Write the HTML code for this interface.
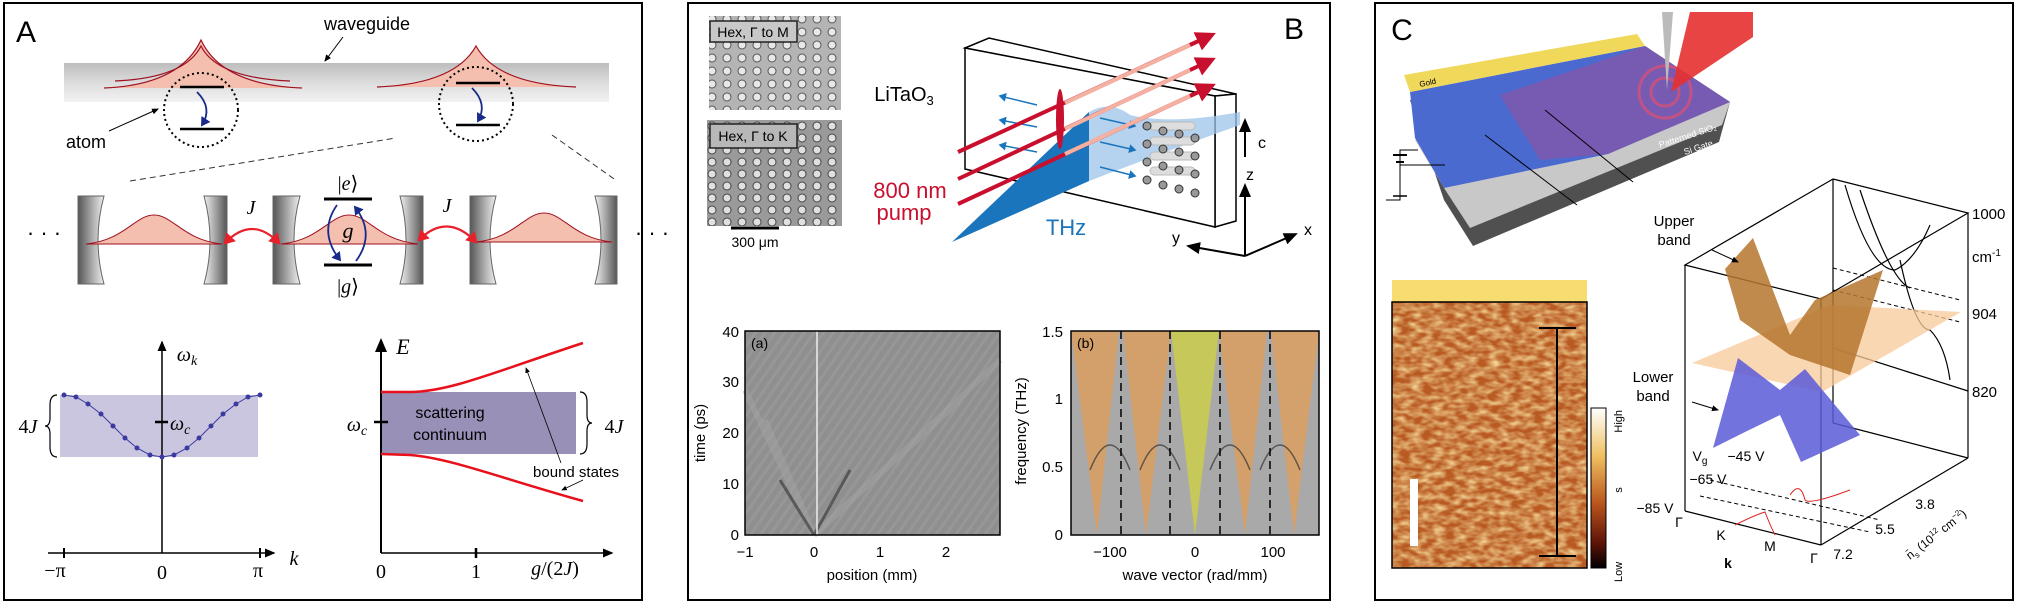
<!DOCTYPE html>
<html><head><meta charset="utf-8"><style>
html,body{margin:0;padding:0;background:#fff}
svg{display:block}
text{font-family:"Liberation Sans",sans-serif}
.m{font-family:"Liberation Serif",serif;font-style:italic}
.r{font-family:"Liberation Serif",serif}
</style></head><body>
<svg width="2017" height="604" viewBox="0 0 2017 604" xmlns="http://www.w3.org/2000/svg">
<defs>
<linearGradient id="wg" x1="0" y1="0" x2="0" y2="1"><stop offset="0" stop-color="#bdbdbd"/><stop offset="0.5" stop-color="#dcdcdc"/><stop offset="1" stop-color="#f2f2f2"/></linearGradient>
<linearGradient id="mir" x1="0" y1="0" x2="1" y2="0"><stop offset="0" stop-color="#f0f0f0"/><stop offset="1" stop-color="#555"/></linearGradient>
<linearGradient id="mir2" x1="1" y1="0" x2="0" y2="0"><stop offset="0" stop-color="#f0f0f0"/><stop offset="1" stop-color="#555"/></linearGradient>
<linearGradient id="cb" x1="0" y1="0" x2="0" y2="1"><stop offset="0" stop-color="#fff"/><stop offset="0.3" stop-color="#f0c060"/><stop offset="0.6" stop-color="#b8541c"/><stop offset="0.85" stop-color="#5a1208"/><stop offset="1" stop-color="#000"/></linearGradient>
<pattern id="diag" width="8" height="8" patternUnits="userSpaceOnUse" patternTransform="rotate(35)"><rect width="8" height="8" fill="#8f8f8f"/><rect width="3" height="8" fill="#979797"/></pattern>
<pattern id="holes" width="15" height="13" patternUnits="userSpaceOnUse"><rect width="15" height="13" fill="#b4b4b4"/><circle cx="7" cy="6" r="4" fill="#e8e8e8" stroke="#555" stroke-width="1"/></pattern>
<pattern id="holes2" width="15" height="12" patternUnits="userSpaceOnUse"><rect width="15" height="12" fill="#9a9a9a"/><circle cx="7" cy="6" r="4" fill="#e0e0e0" stroke="#444" stroke-width="1"/></pattern>
<filter id="tex" x="0" y="0" width="1" height="1" filterUnits="objectBoundingBox"><feTurbulence type="fractalNoise" baseFrequency="0.09 0.18" numOctaves="2" seed="3"/><feColorMatrix type="matrix" values="0 0 0 0 0.95  0 0 0 0 0.75  0 0 0 0 0.35  0 0 0 1.6 -0.5"/><feComposite in2="SourceGraphic" operator="in"/></filter>
<marker id="ah" markerWidth="8" markerHeight="8" refX="6" refY="4" orient="auto"><path d="M0,1 L7,4 L0,7 Z" fill="#000"/></marker>
<marker id="ahr" markerWidth="6" markerHeight="6" refX="4" refY="3" orient="auto-start-reverse"><path d="M0,0 L5,3 L0,6 Z" fill="#e8202a"/></marker>
<marker id="ahb" markerWidth="6" markerHeight="6" refX="4" refY="3" orient="auto"><path d="M0,0 L5,3 L0,6 Z" fill="#1a2a8a"/></marker>
<marker id="ahc" markerWidth="6" markerHeight="6" refX="4" refY="3" orient="auto"><path d="M0,0 L5,3 L0,6 Z" fill="#1a75bc"/></marker>
<marker id="ahred" markerWidth="5" markerHeight="5" refX="2" refY="2.5" orient="auto"><path d="M0,0 L5,2.5 L0,5 Z" fill="#c8102e"/></marker>
</defs>

<!-- ============ PANEL A ============ -->
<rect x="4" y="3" width="638" height="597" fill="none" stroke="#000" stroke-width="2"/>
<text x="16" y="42" font-size="30">A</text>
<text x="367" y="30" font-size="18" text-anchor="middle">waveguide</text>
<line x1="343" y1="37" x2="325" y2="61" stroke="#000" stroke-width="1" marker-end="url(#ah)"/>
<rect x="64" y="63" width="545" height="39" fill="url(#wg)"/>
<path d="M104,88 Q180,85 201,40 Q222,85 302,88 Z" fill="#f4bfae"/>
<path d="M104,88 Q180,85 201,40 Q222,85 302,88" fill="none" stroke="#a01020" stroke-width="1.2"/>
<path d="M115,81 Q185,78 201,46 Q217,78 290,81" fill="none" stroke="#a01020" stroke-width="1.2"/>
<path d="M377,87 Q455,84 476,46 Q497,84 576,87 Z" fill="#f4bfae"/>
<path d="M377,87 Q455,84 476,46 Q497,84 576,87" fill="none" stroke="#a01020" stroke-width="1.2"/>
<circle cx="201" cy="110" r="37" fill="none" stroke="#000" stroke-width="2" stroke-dasharray="2,3"/>
<circle cx="476" cy="104" r="37" fill="none" stroke="#000" stroke-width="2" stroke-dasharray="2,3"/>
<line x1="180" y1="87" x2="224" y2="87" stroke="#000" stroke-width="2.5"/>
<line x1="180" y1="129" x2="224" y2="129" stroke="#000" stroke-width="2.5"/>
<line x1="456" y1="83" x2="500" y2="83" stroke="#000" stroke-width="2.5"/>
<line x1="456" y1="125" x2="500" y2="125" stroke="#000" stroke-width="2.5"/>
<path d="M197,92 Q213,108 202,125" fill="none" stroke="#1a2a8a" stroke-width="1.8" marker-end="url(#ahb)"/>
<path d="M472,88 Q488,104 478,121" fill="none" stroke="#1a2a8a" stroke-width="1.8" marker-end="url(#ahb)"/>
<text x="86" y="148" font-size="18" text-anchor="middle">atom</text>
<line x1="109" y1="131" x2="158" y2="109" stroke="#000" stroke-width="1" marker-end="url(#ah)"/>
<line x1="130" y1="181" x2="396" y2="138" stroke="#333" stroke-dasharray="6,4"/>
<line x1="552" y1="135" x2="617" y2="181" stroke="#333" stroke-dasharray="6,4"/>
<path d="M78,196 L104,196 Q92,240 104,284 L78,284 Z" fill="url(#mir2)" stroke="#666"/>
<path d="M227,196 L204,196 Q216,240 204,284 L227,284 Z" fill="url(#mir)" stroke="#666"/>
<path d="M273,196 L300,196 Q288,240 300,284 L273,284 Z" fill="url(#mir2)" stroke="#666"/>
<path d="M423,196 L400,196 Q412,240 400,284 L423,284 Z" fill="url(#mir)" stroke="#666"/>
<path d="M470,196 L496,196 Q484,240 496,284 L470,284 Z" fill="url(#mir2)" stroke="#666"/>
<path d="M617,196 L595,196 Q607,240 595,284 L617,284 Z" fill="url(#mir)" stroke="#666"/>
<path d="M86,244 C125,240 135,215 154,215 C173,215 183,240 222,244 Z" fill="#f4bfae" stroke="#a01020"/>
<path d="M281,244 C320,240 330,215 349,215 C368,215 378,240 418,244 Z" fill="#f4bfae" stroke="#a01020"/>
<path d="M476,242 C515,238 525,213 544,213 C563,213 573,238 612,242 Z" fill="#f4bfae" stroke="#a01020"/>
<text x="44" y="240" font-size="22" text-anchor="middle">· · ·</text>
<text x="652" y="240" font-size="22" text-anchor="middle">· · ·</text>
<line x1="324" y1="199" x2="372" y2="199" stroke="#000" stroke-width="3"/>
<line x1="324" y1="265" x2="372" y2="265" stroke="#000" stroke-width="3"/>
<text x="348" y="190" font-size="20" text-anchor="middle" class="r">|<tspan class="m">e</tspan>⟩</text>
<text x="348" y="293" font-size="20" text-anchor="middle" class="r">|<tspan class="m">g</tspan>⟩</text>
<text x="348" y="238" font-size="22" text-anchor="middle" class="m">g</text>
<path d="M337,205 Q318,232 340,260" fill="none" stroke="#1a2a8a" stroke-width="1.8" marker-end="url(#ahb)"/>
<path d="M356,261 Q376,234 355,207" fill="none" stroke="#1a2a8a" stroke-width="1.8" marker-end="url(#ahb)"/>
<text x="251" y="214" font-size="20" text-anchor="middle" class="m">J</text>
<text x="447" y="212" font-size="20" text-anchor="middle" class="m">J</text>
<path d="M225,243 Q252,215 279,243" fill="none" stroke="#e8202a" stroke-width="2.2" marker-start="url(#ahr)" marker-end="url(#ahr)"/>
<path d="M419,240 Q447,212 476,242" fill="none" stroke="#e8202a" stroke-width="2.2" marker-start="url(#ahr)" marker-end="url(#ahr)"/>
<rect x="60" y="395" width="198" height="62" fill="#cbc6df"/>
<line x1="48" y1="553" x2="274" y2="553" stroke="#000" stroke-width="1.5" marker-end="url(#ah)"/>
<line x1="162" y1="553" x2="162" y2="342" stroke="#000" stroke-width="1.5" marker-end="url(#ah)"/>
<line x1="64" y1="548" x2="64" y2="558" stroke="#000" stroke-width="2"/>
<line x1="260" y1="548" x2="260" y2="558" stroke="#000" stroke-width="2"/>
<line x1="155" y1="422" x2="168" y2="422" stroke="#000" stroke-width="2.5"/>
<polyline points="64,395 76,397 88,404 101,414 113,426 125,438 137,448 150,455 162,457 174,455 187,448 199,438 211,426 223,414 236,404 248,397 260,395" fill="none" stroke="#3a3aa0" stroke-width="1"/>
<g fill="#3a3aa0"><circle cx="64" cy="395" r="2.5"/><circle cx="76" cy="397" r="2.5"/><circle cx="88" cy="404" r="2.5"/><circle cx="101" cy="414" r="2.5"/><circle cx="113" cy="426" r="2.5"/><circle cx="125" cy="438" r="2.5"/><circle cx="137" cy="448" r="2.5"/><circle cx="150" cy="455" r="2.5"/><circle cx="162" cy="457" r="2.5"/><circle cx="174" cy="455" r="2.5"/><circle cx="187" cy="448" r="2.5"/><circle cx="199" cy="438" r="2.5"/><circle cx="211" cy="426" r="2.5"/><circle cx="223" cy="414" r="2.5"/><circle cx="236" cy="404" r="2.5"/><circle cx="248" cy="397" r="2.5"/><circle cx="260" cy="395" r="2.5"/></g>
<text x="187" y="361" font-size="20" class="m" text-anchor="middle">ω<tspan font-size="14" dy="4">k</tspan></text>
<text x="170" y="430" font-size="20" class="m">ω<tspan font-size="14" dy="4">c</tspan></text>
<path d="M57,395 Q50,395 50,405 L50,418 Q50,426 45,426 Q50,426 50,434 L50,447 Q50,457 57,457" fill="none" stroke="#000" stroke-width="1.2"/>
<text x="28" y="433" font-size="20" class="r" text-anchor="middle">4<tspan class="m">J</tspan></text>
<text x="55" y="577" font-size="20" class="r" text-anchor="middle">−π</text>
<text x="162" y="579" font-size="20" class="r" text-anchor="middle">0</text>
<text x="258" y="577" font-size="20" class="r" text-anchor="middle">π</text>
<text x="294" y="565" font-size="20" class="m" text-anchor="middle">k</text>
<rect x="381" y="392" width="195" height="62" fill="#9990b8"/>
<line x1="381" y1="553" x2="612" y2="553" stroke="#000" stroke-width="1.5" marker-end="url(#ah)"/>
<line x1="381" y1="553" x2="381" y2="340" stroke="#000" stroke-width="2" marker-end="url(#ah)"/>
<line x1="476" y1="548" x2="476" y2="558" stroke="#000" stroke-width="2.5"/>
<line x1="374" y1="422" x2="388" y2="422" stroke="#000" stroke-width="2.5"/>
<path d="M381,392 L410,392 C450,392 500,370 583,343" fill="none" stroke="#e8101a" stroke-width="2.5"/>
<path d="M381,454 L410,455 C450,458 500,478 583,501" fill="none" stroke="#e8101a" stroke-width="2.5"/>
<text x="450" y="418" font-size="16" text-anchor="middle">scattering</text>
<text x="450" y="440" font-size="16" text-anchor="middle">continuum</text>
<text x="403" y="354" font-size="22" class="m" text-anchor="middle">E</text>
<text x="357" y="431" font-size="20" class="m" text-anchor="middle">ω<tspan font-size="14" dy="4">c</tspan></text>
<path d="M580,392 Q587,392 587,402 L587,415 Q587,423 592,423 Q587,423 587,431 L587,444 Q587,454 580,454" fill="none" stroke="#000" stroke-width="1.2"/>
<text x="614" y="433" font-size="20" class="r" text-anchor="middle">4<tspan class="m">J</tspan></text>
<text x="576" y="477" font-size="15" text-anchor="middle">bound states</text>
<line x1="561" y1="463" x2="526" y2="368" stroke="#000" stroke-width="0.8" marker-end="url(#ah)"/>
<line x1="583" y1="480" x2="562" y2="490" stroke="#000" stroke-width="0.8" marker-end="url(#ah)"/>
<text x="381" y="578" font-size="20" class="r" text-anchor="middle">0</text>
<text x="476" y="578" font-size="20" class="r" text-anchor="middle">1</text>
<text x="555" y="575" font-size="20" class="r" text-anchor="middle"><tspan class="m">g</tspan>/(2<tspan class="m">J</tspan>)</text>

<!-- ============ PANEL B ============ -->
<rect x="688" y="3" width="642" height="597" fill="none" stroke="#000" stroke-width="2"/>
<text x="1294" y="39" font-size="30" text-anchor="middle">B</text>
<rect x="709" y="16" width="132" height="94" fill="url(#holes)"/>
<rect x="710" y="21" width="87" height="21" fill="#c8c8c8" stroke="#222" stroke-width="1.5"/>
<text x="753" y="37" font-size="14" text-anchor="middle">Hex, Γ to M</text>
<rect x="707" y="120" width="135" height="106" fill="url(#holes2)"/>
<rect x="710" y="124" width="87" height="24" fill="#b8b8b8" stroke="#222" stroke-width="1.5"/>
<text x="753" y="141" font-size="14" text-anchor="middle">Hex, Γ to K</text>
<line x1="731" y1="228" x2="779" y2="228" stroke="#000" stroke-width="3"/>
<text x="755" y="247" font-size="14" text-anchor="middle">300 μm</text>
<text x="904" y="101" font-size="20" text-anchor="middle">LiTaO<tspan font-size="13" dy="4">3</tspan></text>
<text x="910" y="198" font-size="22" fill="#c8102e" text-anchor="middle">800 nm</text>
<text x="904" y="220" font-size="22" fill="#c8102e" text-anchor="middle">pump</text>
<polygon points="965,48 989,38 1236,94 1215,96" fill="#fff" stroke="#000" stroke-width="1.5"/>
<polygon points="1215,96 1236,94 1236,221 1215,227" fill="#fff" stroke="#000" stroke-width="1.5"/>
<polygon points="965,48 1215,96 1215,227 965,169" fill="#fff" stroke="#000" stroke-width="1.5"/>
<path d="M1089,112 Q1110,100 1130,115 Q1170,125 1240,112 L1240,125 Q1170,150 1089,181 Z" fill="#9cc3e8" opacity="0.75"/>
<g fill="#ddd" stroke="#bbb"><rect x="1150" y="122" width="45" height="8" rx="4"/><rect x="1150" y="137" width="45" height="8" rx="4"/><rect x="1150" y="152" width="45" height="8" rx="4"/><rect x="1150" y="167" width="45" height="8" rx="4"/></g>
<g fill="#999" stroke="#333"><circle cx="1147" cy="126" r="4"/><circle cx="1163" cy="131" r="4"/><circle cx="1179" cy="134" r="4"/><circle cx="1195" cy="138" r="4"/><circle cx="1147" cy="144" r="4"/><circle cx="1163" cy="149" r="4"/><circle cx="1179" cy="152" r="4"/><circle cx="1195" cy="156" r="4"/><circle cx="1147" cy="162" r="4"/><circle cx="1163" cy="166" r="4"/><circle cx="1179" cy="170" r="4"/><circle cx="1195" cy="174" r="4"/><circle cx="1147" cy="180" r="4"/><circle cx="1163" cy="185" r="4"/><circle cx="1179" cy="189" r="4"/><circle cx="1195" cy="193" r="4"/></g>
<polygon points="952,242 1089,112 1089,181" fill="#1a75bc"/>
<g stroke="#1a75bc" stroke-width="1.5"><line x1="1037" y1="105" x2="1000" y2="96" marker-end="url(#ahc)"/><line x1="1037" y1="127" x2="1000" y2="120" marker-end="url(#ahc)"/><line x1="1037" y1="152" x2="1000" y2="145" marker-end="url(#ahc)"/><line x1="1100" y1="118" x2="1135" y2="126" marker-end="url(#ahc)"/><line x1="1100" y1="142" x2="1135" y2="150" marker-end="url(#ahc)"/><line x1="1100" y1="167" x2="1135" y2="176" marker-end="url(#ahc)"/></g>
<g stroke="#c8102e" stroke-width="4"><line x1="958" y1="152" x2="1205" y2="38" marker-end="url(#ahred)"/><line x1="958" y1="179" x2="1205" y2="63" marker-end="url(#ahred)"/><line x1="958" y1="204" x2="1205" y2="89" marker-end="url(#ahred)"/></g>
<g stroke="#f4b0a0" stroke-width="4"><line x1="1065" y1="103" x2="1190" y2="45"/><line x1="1065" y1="129" x2="1190" y2="70"/><line x1="1065" y1="154" x2="1190" y2="96"/></g>
<ellipse cx="1060" cy="119" rx="4" ry="30" fill="#c8102e"/>
<text x="1066" y="235" font-size="22" fill="#1a75bc" text-anchor="middle">THz</text>
<line x1="1245" y1="256" x2="1245" y2="185" stroke="#000" stroke-width="2" marker-end="url(#ah)"/>
<line x1="1245" y1="157" x2="1245" y2="120" stroke="#000" stroke-width="2" marker-end="url(#ah)"/>
<line x1="1245" y1="256" x2="1188" y2="246" stroke="#000" stroke-width="2" marker-end="url(#ah)"/>
<line x1="1245" y1="256" x2="1296" y2="234" stroke="#000" stroke-width="2" marker-end="url(#ah)"/>
<text x="1258" y="148" font-size="16">c</text>
<text x="1250" y="180" font-size="16" text-anchor="middle">z</text>
<text x="1176" y="243" font-size="16" text-anchor="middle">y</text>
<text x="1308" y="235" font-size="16" text-anchor="middle">x</text>
<rect x="745" y="331" width="255" height="204" fill="url(#diag)"/>
<path d="M814,535 L745,390 M814,535 L765,420 M814,535 L1000,360 M814,535 L960,400" stroke="#a8a8a8" stroke-width="6" opacity="0.4"/>
<path d="M814,535 L780,480 M814,535 L850,470" stroke="#333" stroke-width="3" opacity="0.6"/>
<line x1="817" y1="331" x2="817" y2="535" stroke="#eee" stroke-width="1.5"/>
<rect x="745" y="331" width="255" height="204" fill="none" stroke="#000" stroke-width="1.5"/>
<text x="751" y="348" font-size="14">(a)</text>
<g font-size="15" text-anchor="end"><text x="739" y="540">0</text><text x="739" y="489">10</text><text x="739" y="438">20</text><text x="739" y="387">30</text><text x="739" y="337">40</text></g>
<g font-size="15" text-anchor="middle"><text x="745" y="557">−1</text><text x="814" y="557">0</text><text x="880" y="557">1</text><text x="946" y="557">2</text><text x="872" y="580">position (mm)</text></g>
<text transform="translate(705,433) rotate(-90)" font-size="15" text-anchor="middle">time (ps)</text>
<rect x="1071" y="331" width="248" height="204" fill="#a9a9a9"/>
<g fill="#d8a066" opacity="0.9"><polygon points="1071,331 1119,331 1097,535"/><polygon points="1123,331 1171,331 1146,535"/><polygon points="1219,331 1267,331 1245,535"/><polygon points="1271,331 1319,331 1294,535"/></g>
<polygon points="1171,331 1219,331 1195,535" fill="#c6c85a"/>
<path d="M1090,470 Q1110,420 1130,470 M1140,470 Q1160,420 1180,470 M1210,470 Q1230,420 1250,470 M1260,470 Q1280,420 1300,470" fill="none" stroke="#333" stroke-width="1.5" opacity="0.7"/>
<g stroke="#000" stroke-width="1.5" stroke-dasharray="8,5"><line x1="1121" y1="331" x2="1121" y2="535"/><line x1="1170" y1="331" x2="1170" y2="535"/><line x1="1220" y1="331" x2="1220" y2="535"/><line x1="1270" y1="331" x2="1270" y2="535"/></g>
<rect x="1071" y="331" width="248" height="204" fill="none" stroke="#000" stroke-width="1.5"/>
<text x="1077" y="348" font-size="14">(b)</text>
<g font-size="15" text-anchor="end"><text x="1063" y="540">0</text><text x="1063" y="472">0.5</text><text x="1063" y="404">1</text><text x="1063" y="337">1.5</text></g>
<g font-size="15" text-anchor="middle"><text x="1110" y="557">−100</text><text x="1195" y="557">0</text><text x="1273" y="557">100</text><text x="1195" y="580">wave vector (rad/mm)</text></g>
<text transform="translate(1026,431) rotate(-90)" font-size="15" text-anchor="middle">frequency (THz)</text>

<!-- ============ PANEL C ============ -->
<rect x="1375" y="3" width="638" height="597" fill="none" stroke="#000" stroke-width="2"/>
<text x="1402" y="40" font-size="30" text-anchor="middle">C</text>
<polygon points="1410,100 1444,200 1473,246 1719,142 1730,102 1645,46" fill="#505050"/>
<polygon points="1415,140 1444,188 1470,228 1722,125 1730,102" fill="#c8c8c8"/>
<polygon points="1410,92 1645,46 1730,102 1608,154 1444,188 1415,138" fill="#4a6ad0"/>
<polygon points="1500,95 1645,46 1730,102 1608,154 1540,160" fill="#b04a90" opacity="0.45"/>
<circle cx="1665" cy="92" r="26" fill="none" stroke="#e05070" stroke-width="3" opacity="0.7"/>
<circle cx="1665" cy="92" r="14" fill="none" stroke="#e05070" stroke-width="3" opacity="0.7"/>
<polygon points="1404,75 1637,34 1645,46 1410,92" fill="#f0d85a"/>
<text x="1420" y="87" font-size="8" transform="rotate(-12,1420,87)">Gold</text>
<text x="1660" y="148" font-size="9" fill="#fff" transform="rotate(-18,1660,148)">Patterned SiO₂</text>
<text x="1685" y="155" font-size="9" fill="#fff" transform="rotate(-18,1685,155)">Si Gate</text>
<polygon points="1662,12 1673,12 1667,90" fill="#bbb"/>
<polygon points="1690,12 1753,12 1753,37 1671,92" fill="#e53030" opacity="0.9"/>
<polyline points="1386,200 1400,200 1400,150 1418,150" fill="none" stroke="#000"/>
<line x1="1393" y1="155" x2="1407" y2="155" stroke="#000" stroke-width="2"/>
<line x1="1396" y1="162" x2="1404" y2="162" stroke="#000" stroke-width="2"/>
<line x1="1400" y1="165" x2="1445" y2="165" stroke="#000"/>
<line x1="1393" y1="196" x2="1407" y2="196" stroke="#000" stroke-width="1.5"/>
<line x1="1485" y1="135" x2="1577" y2="205" stroke="#000"/>
<line x1="1545" y1="110" x2="1633" y2="182" stroke="#000"/>
<rect x="1392" y="280" width="195" height="22" fill="#f7dc6f"/>
<rect x="1392" y="302" width="195" height="266" fill="#b85a22"/>
<rect x="1392" y="302" width="195" height="266" fill="#b85a22" filter="url(#tex)"/>
<rect x="1392" y="302" width="195" height="266" fill="none" stroke="#000" stroke-width="1.5"/>
<rect x="1410" y="479" width="8" height="67" fill="#fff"/>
<line x1="1557" y1="328" x2="1557" y2="556" stroke="#000" stroke-width="2"/>
<line x1="1539" y1="328" x2="1576" y2="328" stroke="#000" stroke-width="2"/>
<line x1="1539" y1="556" x2="1576" y2="556" stroke="#000" stroke-width="2"/>
<rect x="1591" y="408" width="15" height="160" fill="url(#cb)" stroke="#000"/>
<text transform="translate(1622,410) rotate(-90)" font-size="11" text-anchor="end">High</text>
<text transform="translate(1622,490) rotate(-90)" font-size="11" text-anchor="middle">s</text>
<text transform="translate(1622,582) rotate(-90)" font-size="11">Low</text>
<g stroke="#000" stroke-width="1.2" fill="none">
<polygon points="1833,179 1968,213 1821,299 1685,265"/>
<line x1="1685" y1="265" x2="1685" y2="511"/>
<line x1="1821" y1="299" x2="1821" y2="545"/>
<line x1="1968" y1="213" x2="1968" y2="458"/>
<line x1="1833" y1="179" x2="1833" y2="423"/>
<line x1="1685" y1="511" x2="1821" y2="545"/>
<line x1="1821" y1="545" x2="1968" y2="458"/>
<line x1="1833" y1="423" x2="1968" y2="458"/>
<line x1="1833" y1="348" x2="1968" y2="391"/>
<path d="M1845,185 Q1870,270 1895,270 Q1915,260 1930,225"/>
<path d="M1860,190 Q1890,280 1910,288"/>
<path d="M1900,260 Q1915,330 1930,330 Q1945,345 1950,380"/>
</g>
<g stroke="#000" stroke-dasharray="4,3" stroke-width="1"><line x1="1833" y1="268" x2="1960" y2="300"/><line x1="1833" y1="290" x2="1960" y2="322"/><line x1="1710" y1="480" x2="1880" y2="520"/><line x1="1700" y1="496" x2="1870" y2="532"/></g>
<polygon points="1692,363 1830,305 1961,312 1822,392" fill="#f8c99a" opacity="0.75"/>
<polygon points="1725,269 1753,238 1790,335 1815,300 1883,270 1850,375 1790,355 1740,320" fill="#b5762e" opacity="0.85"/>
<polygon points="1713,448 1738,358 1780,390 1805,369 1860,435 1801,462 1780,415 1745,432" fill="#5a5ad8" opacity="0.85"/>
<path d="M1790,495 Q1800,480 1805,500 Q1810,505 1850,490 M1735,525 Q1755,515 1765,512 Q1770,525 1775,535" fill="none" stroke="#e02020" stroke-width="1"/>
<g font-size="15" text-anchor="middle"><text x="1674" y="226">Upper</text><text x="1674" y="245">band</text><text x="1653" y="382">Lower</text><text x="1653" y="401">band</text></g>
<line x1="1712" y1="250" x2="1738" y2="262" stroke="#000" marker-end="url(#ah)"/>
<line x1="1692" y1="402" x2="1718" y2="410" stroke="#000" marker-end="url(#ah)"/>
<g font-size="15"><text x="1972" y="219">1000</text><text x="1972" y="262">cm<tspan font-size="10" dy="-6">-1</tspan></text><text x="1972" y="319">904</text><text x="1972" y="397">820</text></g>
<g font-size="14" text-anchor="middle"><text x="1700" y="461">V<tspan font-size="10" dy="3">g</tspan></text><text x="1746" y="461">−45 V</text><text x="1708" y="484">−65 V</text><text x="1655" y="513">−85 V</text><text x="1679" y="527">Γ</text><text x="1721" y="540">K</text><text x="1770" y="551">M</text><text x="1814" y="563">Γ</text><text x="1728" y="568" font-weight="bold">k</text><text x="1843" y="559">7.2</text><text x="1885" y="534">5.5</text><text x="1925" y="509">3.8</text></g>
<text x="1910" y="560" font-size="12" transform="rotate(-38,1910,560)">n̄<tspan font-size="8" dy="3">s</tspan><tspan dy="-3"> (10</tspan><tspan font-size="8" dy="-5">12</tspan><tspan dy="5"> cm</tspan><tspan font-size="8" dy="-5">−2</tspan><tspan dy="5">)</tspan></text>
</svg>
</body></html>
